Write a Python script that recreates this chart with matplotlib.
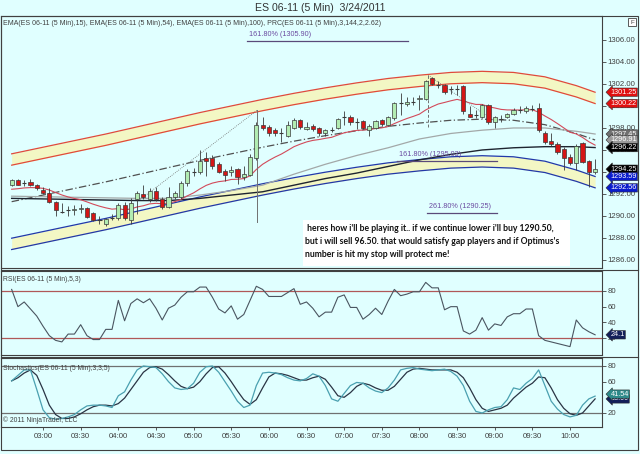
import matplotlib
matplotlib.use('Agg')
import matplotlib.pyplot as plt
import matplotlib.transforms as mtransforms
from matplotlib.patches import Rectangle
import numpy as np

# ---------------- data ----------------
opens = [1292.85,1293.3,1293.0,1293.1,1292.8,1292.4,1292.1,1291.3,1290.4,1290.5,
         1290.5,1290.6,1290.7,1290.3,1289.6,1289.3,1289.8,1289.8,1291.0,1289.6,
         1291.5,1292.0,1291.5,1292.3,1291.5,1290.8,1291.7,1291.7,1293.0,1294.0,
         1294.0,1295.3,1295.3,1294.7,1294.1,1294.0,1294.3,1293.5,1293.7,1295.3,
         1298.3,1298.1,1297.8,1297.5,1297.3,1298.0,1298.7,1297.9,1298.2,1298.0,
         1297.5,1297.8,1298.0,1299.0,1299.0,1298.5,1298.6,1297.8,1298.0,1298.7,
         1298.3,1298.9,1300.3,1300.2,1300.4,1300.6,1300.6,1302.5,1301.9,1301.9,
         1301.5,1301.5,1301.8,1299.3,1299.2,1299.0,1300.1,1298.5,1298.8,1299.0,
         1299.3,1299.6,1299.5,1299.7,1299.8,1297.5,1296.8,1296.5,1296.1,1295.4,
         1294.8,1296.6,1295.0,1294.0]
highs = [1293.4,1293.4,1293.25,1293.4,1292.9,1292.6,1292.5,1291.4,1291.2,1290.9,
         1291.0,1291.1,1290.8,1290.4,1290.0,1289.8,1290.2,1291.2,1291.3,1291.6,
         1292.3,1292.8,1292.5,1292.6,1291.7,1292.6,1292.3,1293.2,1294.3,1294.4,
         1296.0,1295.8,1295.5,1294.9,1294.3,1294.5,1294.4,1294.5,1295.6,1298.5,
         1299.0,1298.3,1298.0,1298.0,1298.6,1298.9,1298.8,1298.5,1298.4,1298.1,
         1297.9,1298.1,1298.9,1299.5,1299.2,1298.9,1298.7,1298.4,1298.7,1298.8,
         1299.1,1300.4,1301.2,1300.8,1300.8,1301.0,1302.4,1302.6,1302.3,1302.0,
         1301.8,1301.9,1301.9,1300.0,1299.6,1300.2,1300.2,1299.1,1299.2,1299.4,
         1299.8,1300.0,1300.0,1300.1,1300.3,1297.7,1297.5,1296.7,1296.3,1295.6,
         1296.5,1296.7,1295.1,1295.2]
lows = [1292.75,1292.8,1292.75,1292.75,1292.4,1292.0,1291.2,1290.0,1290.3,1290.0,
        1290.1,1290.3,1289.8,1289.5,1289.3,1289.1,1289.6,1289.6,1289.6,1289.3,
        1290.2,1291.5,1291.3,1291.4,1290.6,1290.7,1291.5,1291.5,1292.7,1293.6,
        1293.8,1293.6,1294.3,1293.9,1293.2,1293.6,1292.9,1293.3,1293.6,1295.1,
        1297.8,1297.3,1297.3,1296.7,1297.2,1297.9,1297.9,1297.8,1297.7,1297.3,
        1297.3,1297.6,1297.9,1298.3,1298.3,1297.9,1297.9,1297.3,1297.9,1298.2,
        1298.2,1298.7,1299.2,1300.0,1300.1,1299.6,1300.5,1301.9,1301.6,1301.1,
        1301.1,1301.0,1299.3,1299.0,1298.9,1298.9,1298.4,1298.0,1298.5,1298.9,
        1299.2,1299.4,1299.4,1299.5,1297.6,1296.5,1296.4,1295.6,1294.2,1294.6,
        1294.2,1294.8,1292.6,1293.8]
closes = [1293.3,1292.85,1293.0,1292.8,1292.5,1292.1,1291.3,1290.5,1290.4,1290.5,
          1290.6,1290.7,1289.9,1289.6,1289.6,1289.7,1289.8,1291.0,1289.8,1291.2,
          1292.1,1291.7,1292.3,1291.5,1290.8,1291.7,1292.1,1293.0,1294.1,1294.0,
          1295.0,1295.0,1294.5,1294.0,1293.7,1294.2,1293.5,1293.8,1295.4,1298.3,
          1298.0,1297.5,1297.5,1297.5,1298.3,1298.7,1298.1,1298.1,1297.9,1297.5,
          1297.8,1297.8,1298.8,1299.0,1298.5,1298.5,1298.0,1298.2,1298.6,1298.4,
          1299.0,1300.3,1300.3,1300.4,1300.4,1300.7,1302.3,1302.0,1301.9,1301.3,
          1301.5,1301.5,1299.5,1299.0,1299.2,1300.1,1298.5,1299.0,1298.8,1299.3,
          1299.6,1299.6,1299.8,1299.7,1297.8,1296.7,1296.5,1295.8,1295.3,1294.8,
          1296.4,1294.9,1294.0,1294.25]

ema15 = [1292.43,1292.48,1292.55,1292.58,1292.57,1292.51,1292.36,1292.13,1291.91,1291.73,
         1291.59,1291.48,1291.28,1291.07,1290.89,1290.74,1290.62,1290.67,1290.56,1290.64,
         1290.82,1290.93,1291.10,1291.15,1291.11,1291.18,1291.30,1291.51,1291.83,1292.10,
         1292.46,1292.78,1292.99,1293.12,1293.19,1293.32,1293.34,1293.40,1293.65,1294.23,
         1294.70,1295.05,1295.36,1295.63,1295.96,1296.30,1296.53,1296.73,1296.87,1296.95,
         1297.06,1297.15,1297.36,1297.56,1297.68,1297.78,1297.81,1297.86,1297.95,1298.01,
         1298.13,1298.40,1298.64,1298.86,1299.05,1299.26,1299.64,1299.93,1300.18,1300.32,
         1300.47,1300.60,1300.46,1300.28,1300.14,1300.14,1299.93,1299.82,1299.69,1299.64,
         1299.64,1299.63,1299.65,1299.66,1299.43,1299.09,1298.77,1298.40,1298.01,1297.61,
         1297.46,1297.14,1296.75,1296.44]

ema_idx = [0, 10, 20, 25, 30, 35, 40, 45, 50, 55, 60, 65, 70, 75, 80, 85, 90, 93]
ema54 = [1291.8,1291.7,1291.6,1291.6,1291.9,1292.3,1292.8,1293.8,1294.7,1295.5,
         1296.2,1297.0,1297.5,1297.8,1298.0,1298.0,1297.7,1297.45]
ema100 = [1291.6,1291.5,1291.4,1291.4,1291.6,1291.9,1292.2,1292.8,1293.4,1293.9,
          1294.5,1295.1,1295.6,1296.0,1296.2,1296.3,1296.3,1296.22]

prc_idx = [0,5,10,15,20,25,30,35,40,45,50,55,60,65,70,75,80,85,90,93]
prc_mid = [1291.3,1291.9,1292.5,1293.1,1293.75,1294.4,1295.05,1295.65,1296.25,1296.8,
           1297.3,1297.75,1298.15,1298.45,1298.7,1298.8,1298.7,1298.3,1297.5,1296.91]
prc_up_outer = [1295.65,1296.25,1296.85,1297.45,1298.10,1298.75,1299.40,1300.00,1300.60,1301.15,
                1301.65,1302.10,1302.50,1302.80,1303.05,1303.15,1303.05,1302.65,1301.85,1301.25]
prc_up_inner = [1294.62,1295.22,1295.82,1296.42,1297.07,1297.72,1298.37,1298.97,1299.57,1300.12,
                1300.62,1301.07,1301.47,1301.77,1302.02,1302.12,1302.02,1301.62,1300.82,1300.22]
prc_lo_inner = [1287.98,1288.58,1289.18,1289.78,1290.43,1291.08,1291.73,1292.33,1292.93,1293.48,
                1293.98,1294.43,1294.83,1295.13,1295.38,1295.48,1295.38,1294.98,1294.18,1293.59]
prc_lo_outer = [1286.95,1287.55,1288.15,1288.75,1289.40,1290.05,1290.70,1291.30,1291.90,1292.45,
                1292.95,1293.40,1293.80,1294.10,1294.35,1294.45,1294.35,1293.95,1293.15,1292.56]

rsi = [82,60,66,57,48,35,23,17,15,25,25,37,23,18,18,31,31,68,42,64,
       70,65,70,58,43,58,62,72,79,79,85,85,72,57,52,61,44,50,68,86,
       82,73,73,73,78,83,63,66,58,47,53,53,72,75,59,59,44,50,58,50,
       67,82,74,76,79,79,91,84,84,56,60,60,29,25,30,46,30,38,36,47,
       51,51,57,57,23,17,15,13,11,9,43,33,28,24.1]
stoch_k = [61,68,75,75,50,24,14,12,13,15,18,24,29,30,30,29,27,42,47,62,
           75,80,79,78,70,60,52,50,51,58,72,79,80,72,60,48,35,27,30,55,
           71,72,71,69,65,62,61,64,70,67,55,38,35,45,55,59,58,52,48,46,
           52,62,75,77,78,76,75,74,75,76,73,67,55,35,22,20,24,27,28,37,
           52,50,58,64,75,55,35,25,18,15,17,30,38,41.54]
stoch_d = [61,65,71,75,68,50,30,18,13,13,15,19,24,28,30,30,29,32,39,50,
           61,72,78,79,76,69,61,54,51,53,60,70,78,79,71,60,48,37,31,37,
           52,66,71,70,68,65,62,62,65,67,63,53,42,40,46,54,58,56,52,49,
           49,54,63,72,76,77,76,75,75,75,75,72,65,52,37,26,22,24,26,30,
           39,46,53,58,66,65,52,37,26,19,17,20,29,38.0]

time_tick_idx = [5,11,17,23,29,35,41,47,53,59,65,71,77,83,89]
time_labels = ["03:00","03:30","04:00","04:30","05:00","05:30","06:00","06:30",
               "07:00","07:30","08:00","08:30","09:00","09:30","10:00"]
price_ticks = [1286,1288,1290,1292,1294,1296,1298,1300,1302,1304,1306]

main_tags = [(1301.25,'#e01010'),(1300.22,'#e01010'),(1297.45,'#707070'),
             (1296.91,'#9a9a9a'),(1296.22,'#000000'),(1294.25,'#000000'),
             (1293.59,'#0a1ccc'),(1292.56,'#0a1ccc')]

fib_levels = [("161.80% (1305.90)",1305.90,37.5,63.2),
              ("161.80% (1295.03)",1295.03,61.4,77.4),
              ("261.80% (1290.25)",1290.25,66.2,77.4)]

note_lines = [" heres how i'll be playing it.. if we continue lower i'll buy 1290.50,",
              "but i will sell 96.50. that would satisfy gap players and if Optimus's",
              "number is hit my stop will protect me!"]

# ---------------- figure ----------------
BG = '#e0ffff'
W, H = 640, 454
plt.rcParams['font.family'] = ['Liberation Sans', 'DejaVu Sans']
fig = plt.figure(figsize=(6.4, 4.54), dpi=100, facecolor=BG)

def prect(x0, y0, x1, y1):
    return [x0 / W, 1 - y1 / H, (x1 - x0) / W, (y1 - y0) / H]

ax = fig.add_axes(prect(1, 16, 602, 268))
axr = fig.add_axes(prect(1, 271, 602, 355), sharex=ax)
axs = fig.add_axes(prect(1, 358, 602, 427), sharex=ax)

n = len(closes)
idx = np.arange(n)
XL = (-1.7, 94.1)

for a in (ax, axr, axs):
    a.set_facecolor(BG)
    for s in a.spines.values():
        s.set_color('#404040')
        s.set_linewidth(0.8)
    a.yaxis.tick_right()
    a.tick_params(axis='y', direction='out', length=3, width=0.6, colors='#404040',
                  labelsize=5.6, pad=1)
    a.tick_params(axis='x', bottom=False, labelbottom=False)
ax.set_xlim(*XL)

# ---- main panel ----
ax.set_ylim(1285.27, 1308.18)
ax.set_yticks(price_ticks)
ax.set_yticklabels([f"{p:.2f}" for p in price_ticks])

band_fill = '#f3f7c4'
ax.fill_between(prc_idx, prc_up_inner, prc_up_outer, color=band_fill, zorder=1, lw=0)
ax.fill_between(prc_idx, prc_lo_outer, prc_lo_inner, color=band_fill, zorder=1, lw=0)
for arr in (prc_up_outer, prc_up_inner):
    ax.plot(prc_idx, arr, color='#e04a3a', lw=0.9, zorder=2)
for arr in (prc_lo_outer, prc_lo_inner):
    ax.plot(prc_idx, arr, color='#2238a8', lw=0.9, zorder=2)
ax.plot(prc_idx, prc_mid, color='#505050', lw=0.9, ls=(0, (6, 2, 1, 2)), zorder=2)
ax.plot(ema_idx, ema54, color='#a3a8a8', lw=0.9, zorder=2)
ax.plot(ema_idx, ema100, color='#1e2430', lw=1.0, zorder=2)
ax.plot(idx, ema15, color='#d24a5a', lw=0.8, zorder=2)

# drawings
ax.plot([20.5, 39.1], [1291.5, 1299.6], color='#707070', lw=0.6, ls=(0, (1, 1.5)), zorder=3)
ax.plot([39.1, 39.1], [1289.45, 1299.6], color='#707070', lw=0.7, zorder=3)
ax.plot([66.4, 66.4], [1298.1, 1302.8], color='#707070', lw=0.7, ls=(0, (3, 2)), zorder=3)
ax.plot([66.4, 75.5], [1302.8, 1299.2], color='#707070', lw=0.6, ls=(0, (1, 1.5)), zorder=3)
for label, lvl, x0, x1 in fib_levels:
    ax.plot([x0, x1], [lvl, lvl], color='#5a4a7a', lw=0.9, zorder=3)
    ax.text(x0 + 0.4, lvl + 0.25, label, color='#6a4aa0', fontsize=5.2,
            ha='left', va='bottom', zorder=3)

# candles
up_c, dn_c, edge = '#b2ecb2', '#d41616', '#3a3a3a'
ax.vlines(idx, lows, highs, color=edge, lw=0.6, zorder=4)
for i in range(n):
    o, c = opens[i], closes[i]
    if abs(c - o) < 0.06:
        ax.hlines(c, i - 0.33, i + 0.33, color=edge, lw=0.8, zorder=5)
    else:
        ax.bar(i, abs(c - o), bottom=min(o, c), width=0.66,
               color=up_c if c > o else dn_c, edgecolor=edge, lw=0.5, zorder=5)

# note box
ax.add_patch(Rectangle((46.4, 1285.45), 42.6, 4.2, facecolor='white', edgecolor='none', zorder=6))
for k, line in enumerate(note_lines):
    ax.text(46.8, 1288.9 - k * 1.18, line, fontsize=6.25, fontweight='bold', family='Lato',
            color='#111111', ha='left', va='center', zorder=7)

ax.text(0.004, 0.985, "EMA(ES 06-11 (5 Min),15), EMA(ES 06-11 (5 Min),54), EMA(ES 06-11 (5 Min),100), "
        "PRC(ES 06-11 (5 Min),3,144,2,2.62)", transform=ax.transAxes, fontsize=5.05,
        color='#404040', ha='left', va='top', zorder=8)

btr = mtransforms.blended_transform_factory(ax.transAxes, ax.transData)
for val, col in main_tags:
    ax.text(1.014, val, f"{val:.2f}", transform=btr, fontsize=5.2, color='white',
            ha='left', va='center', clip_on=False, zorder=9,
            bbox=dict(boxstyle='larrow,pad=0.1', fc=col, ec='#303030', lw=0.4))

# ---- RSI panel ----
axr.set_ylim(-1.7, 105.5)
axr.set_yticks([20, 40, 60, 80])
axr.axhline(80, color='#b05858', lw=0.9)
axr.axhline(20, color='#b05858', lw=0.9)
axr.plot(idx, rsi, color='#4a5560', lw=0.8)
axr.text(0.003, 0.94, "RSI(ES 06-11 (5 Min),5,3)", transform=axr.transAxes, fontsize=4.9,
         color='#404040', ha='left', va='top')
btr_r = mtransforms.blended_transform_factory(axr.transAxes, axr.transData)
axr.text(1.014, rsi[-1], f"{rsi[-1]:.1f}", transform=btr_r, fontsize=5.2, color='white',
         ha='left', va='center', clip_on=False,
         bbox=dict(boxstyle='larrow,pad=0.1', fc='#13205a', ec='#303030', lw=0.4))

# ---- Stochastics panel ----
axs.set_ylim(2.1, 90.2)
axs.set_yticks([20, 60, 80])
axs.axhline(80, color='#707070', lw=0.9)
axs.axhline(20, color='#707070', lw=0.9)
axs.plot(idx, stoch_d, color='#2a3444', lw=0.9)
axs.plot(idx, stoch_k, color='#4aa0b0', lw=0.9)
axs.text(0.003, 0.90, "Stochastics(ES 06-11 (5 Min),3,3,5)", transform=axs.transAxes,
         fontsize=4.9, color='#404040', ha='left', va='top')
axs.text(0.003, 0.04, "\u00a9 2011 NinjaTrader, LLC", transform=axs.transAxes,
         fontsize=4.9, color='#404040', ha='left', va='bottom')
btr_s = mtransforms.blended_transform_factory(axs.transAxes, axs.transData)
axs.text(1.014, stoch_d[-1], f"{stoch_d[-1]:.2f}", transform=btr_s, fontsize=5.2, color='white',
         ha='left', va='center', clip_on=False,
         bbox=dict(boxstyle='larrow,pad=0.1', fc='#13205a', ec='#303030', lw=0.4))
axs.text(1.014, stoch_k[-1] + 2.5, f"{stoch_k[-1]:.2f}", transform=btr_s, fontsize=5.2, color='white',
         ha='left', va='center', clip_on=False,
         bbox=dict(boxstyle='larrow,pad=0.1', fc='#2e8a8a', ec='#303030', lw=0.4))
axs.set_xticks(time_tick_idx)
axs.set_xticklabels(time_labels)
axs.tick_params(axis='x', bottom=True, labelbottom=True, direction='out', length=2.5,
                width=0.6, colors='#404040', labelsize=5.6, pad=2)

# ---- frame & title ----
fig.add_artist(Rectangle((1 / W, 1 - 450 / H), 637 / W, 434 / H, transform=fig.transFigure,
                         fill=False, ec='#404040', lw=0.8))
for yy in (269.5, 356.5):
    fig.add_artist(plt.Line2D([1 / W, 638 / W], [1 - yy / H, 1 - yy / H],
                              transform=fig.transFigure, color='#404040', lw=0.8))
fig.add_artist(Rectangle((628 / W, 1 - 26 / H), 8 / W, 8 / H, transform=fig.transFigure,
                         fill=True, fc='white', ec='#404040', lw=0.6))
fig.text(632 / W, 1 - 22 / H, "F", fontsize=4.5, ha='center', va='center', color='#404040')
fig.text(0.5, 1 - 8 / H, "ES 06-11 (5 Min)  3/24/2011", fontsize=7.6, ha='center',
         va='center', color='#333333')

fig.savefig('out.png', dpi=100, facecolor=BG)
